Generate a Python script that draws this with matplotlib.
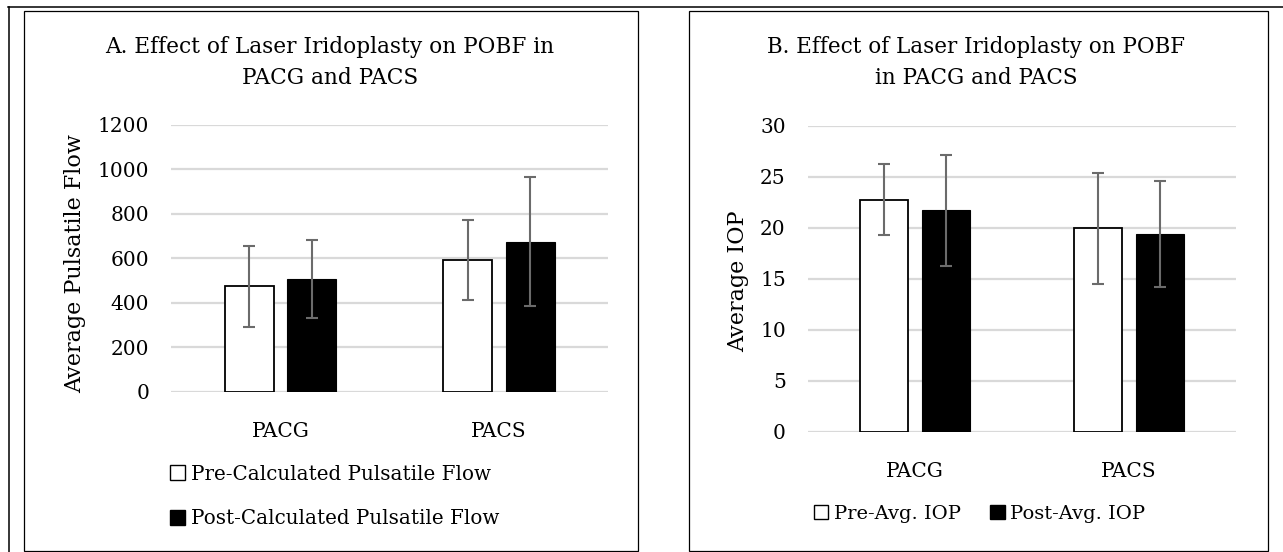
"""Laser iridoplasty: POBF and IOP before/after, two bar panels with error bars."""

import matplotlib

matplotlib.use("Agg")
import matplotlib.pyplot as plt
from matplotlib.lines import Line2D
from matplotlib.patches import Patch, Rectangle

# data
groups = ["PACG", "PACS"]

flow_pre = [473, 591]
flow_pre_err = [184, 180]
flow_post = [507, 674]
flow_post_err = [175, 289]
flow_ticks = [0, 200, 400, 600, 800, 1000, 1200]

iop_pre = [22.76, 19.95]
iop_pre_err = [3.48, 5.45]
iop_post = [21.72, 19.36]
iop_post_err = [5.44, 5.18]
iop_ticks = [0, 5, 10, 15, 20, 25, 30]

W, H = 1283, 552
FONT = "DejaVu Serif"
GRID = "#d9d9d9"
ERR = "#6b6b6b"

plt.rcParams["font.family"] = FONT


def fx(x):
    return x / W


def fy(y):
    return 1 - y / H


def px_rect(left, top, right, bottom):
    return [fx(left), fy(bottom), (right - left) / W, (bottom - top) / H]


def draw_panel(ax, pre, pre_err, post, post_err, ticks, tick_pad):
    xs = range(len(groups))
    off, width = 0.143, 0.225
    ekw = {"ecolor": ERR, "elinewidth": 1.5, "capsize": 4, "capthick": 1.5}
    ax.bar([x - off for x in xs], pre, width, yerr=pre_err, color="white",
           edgecolor="black", linewidth=1.3, error_kw=ekw, zorder=3)
    ax.bar([x + off for x in xs], post, width, yerr=post_err, color="black",
           edgecolor="black", linewidth=0.8, error_kw=ekw, zorder=3)
    ax.set_xlim(-0.5, len(groups) - 0.5)
    ax.set_ylim(ticks[0], ticks[-1])
    ax.set_yticks(ticks)
    ax.set_xticks(list(xs))
    ax.set_xticklabels(groups)
    ax.yaxis.grid(True, color=GRID, linewidth=1.6, zorder=0)
    ax.set_axisbelow(True)
    for s in ax.spines.values():
        s.set_visible(False)
    ax.tick_params(axis="both", length=0, labelsize=14.5, colors="black")
    ax.tick_params(axis="y", pad=tick_pad)
    ax.tick_params(axis="x", pad=22)


fig = plt.figure(figsize=(W / 100, H / 100), dpi=100)

# frame lines of the surrounding table and the two panel boxes
fig.add_artist(Line2D([fx(8), fx(W)], [fy(6.5), fy(6.5)], color="black",
                      linewidth=1.1, transform=fig.transFigure))
fig.add_artist(Line2D([fx(8.5), fx(8.5)], [fy(6.5), 0], color="black",
                      linewidth=1.1, transform=fig.transFigure))
for left, right in [(23.5, 637.5), (688.5, 1267.5)]:
    fig.add_artist(Rectangle((fx(left), fy(551)), (right - left) / W, 540.5 / H,
                             fill=False, edgecolor="black", linewidth=0.9,
                             transform=fig.transFigure))

# panel A
ax1 = fig.add_axes(px_rect(171.4, 124.7, 608, 391.7))
draw_panel(ax1, flow_pre, flow_pre_err, flow_post, flow_post_err, flow_ticks, 16)
fig.text(fx(330), fy(47.5), "A. Effect of Laser Iridoplasty on POBF in",
         ha="center", va="center", fontsize=15.6)
fig.text(fx(330), fy(78), "PACG and PACS", ha="center", va="center",
         fontsize=15.6)
fig.text(fx(75.5), fy(264), "Average Pulsatile Flow", rotation=90,
         ha="center", va="center", fontsize=16)
handles_a = [Patch(facecolor="white", edgecolor="black", linewidth=1.0),
             Patch(facecolor="black", edgecolor="black")]
fig.legend(handles_a, ["Pre-Calculated Pulsatile Flow",
                       "Post-Calculated Pulsatile Flow"],
           loc="center left", bbox_to_anchor=(fx(170), fy(496.5)),
           frameon=False, fontsize=14.3, handlelength=0.75, handleheight=0.75,
           handletextpad=0.3, labelspacing=1.3, borderpad=0, borderaxespad=0)

# panel B
ax2 = fig.add_axes(px_rect(808, 125.7, 1236, 431.7))
draw_panel(ax2, iop_pre, iop_pre_err, iop_post, iop_post_err, iop_ticks, 16)
fig.text(fx(976), fy(47.5), "B. Effect of Laser Iridoplasty on POBF",
         ha="center", va="center", fontsize=15.5)
fig.text(fx(976), fy(78), "in PACG and PACS", ha="center", va="center",
         fontsize=15.5)
fig.text(fx(738), fy(281), "Average IOP", rotation=90, ha="center",
         va="center", fontsize=16)
handles_b = [Patch(facecolor="white", edgecolor="black", linewidth=1.0),
             Patch(facecolor="black", edgecolor="black")]
fig.legend(handles_b, ["Pre-Avg. IOP", "Post-Avg. IOP"], loc="center left",
           bbox_to_anchor=(fx(813.5), fy(514)), ncol=2, frameon=False,
           fontsize=14, handlelength=0.75, handleheight=0.75,
           handletextpad=0.3, columnspacing=1.5, borderpad=0, borderaxespad=0)

fig.savefig("out.png", dpi=100)
